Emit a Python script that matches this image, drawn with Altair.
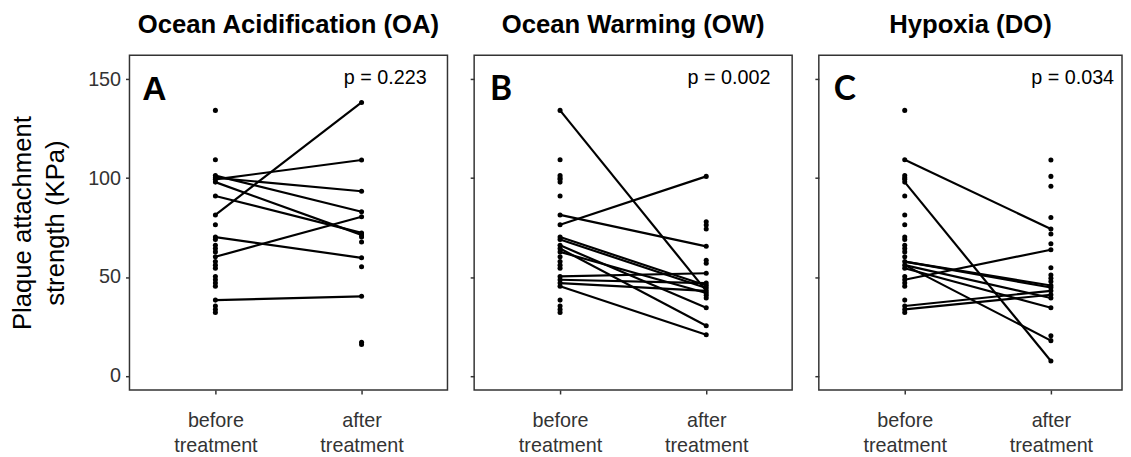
import altair as alt
import pandas as pd

categories = ["before treatment", "after treatment"]
panel_titles = ["Ocean Acidification (OA)", "Ocean Warming (OW)", "Hypoxia (DO)"]
panel_letters = ["A", "B", "C"]
p_values = ["p = 0.223", "p = 0.002", "p = 0.034"]

before_all = [134.3, 109.3, 101.3, 100.2, 99.4, 98.0, 91.0, 81.4, 76.4, 70.2, 69.0, 66.0, 64.4,
              62.7, 60.2, 57.8, 56.0, 54.4, 50.3, 48.6, 46.9, 45.3, 38.3, 35.3, 33.6, 32.0]

after_A = [138.3, 109.2, 93.4, 83.0, 80.5, 72.3, 71.3, 70.2, 67.7, 59.7, 55.2, 40.2, 17.0, 15.8]
after_B = [100.9, 78.0, 76.3, 74.3, 65.5, 58.5, 56.9, 51.9, 46.9, 45.7, 44.4, 43.0, 41.9, 40.7,
           39.4, 34.4, 25.3, 20.8]
after_C = [109.2, 100.9, 95.9, 80.1, 74.3, 71.8, 66.8, 63.8, 54.7, 51.0, 49.4, 47.7, 45.7, 44.7,
           43.0, 41.0, 39.4, 34.4, 20.3, 17.8, 7.5]

pair_before_A = [81.4, 99.4, 100.2, 101.3, 98.0, 91.0, 70.2, 60.2, 38.3]
pair_after_A = [138.3, 109.2, 93.4, 83.0, 71.3, 72.3, 59.7, 80.5, 40.2]

pair_before_B = [134.3, 76.4, 81.4, 70.2, 69.0, 66.0, 64.4, 62.7, 50.3, 48.6, 46.9, 45.3]
pair_after_B = [43.0, 100.9, 65.5, 45.7, 44.4, 34.4, 25.3, 41.9, 51.9, 46.9, 43.0, 20.8]

pair_before_C = [109.3, 98.0, 48.6, 57.8, 57.8, 56.0, 54.4, 56.0, 35.3, 33.6]
pair_after_C = [74.3, 7.5, 63.8, 45.7, 44.7, 39.4, 34.4, 17.8, 43.0, 41.0]

afters = [after_A, after_B, after_C]
pairs = [(pair_before_A, pair_after_A), (pair_before_B, pair_after_B), (pair_before_C, pair_after_C)]

FONT = "Liberation Sans"
widths = [322, 322, 307]
letter_fonts = ["Liberation Sans", "Lato", "Lato"]
letter_dx = [13, 16, 15]
p_dx = [301, 300, 299]
GREY = "#333333"


def panel(i):
    pts = pd.DataFrame({
        "cond": [categories[0]] * len(before_all) + [categories[1]] * len(afters[i]),
        "val": before_all + afters[i],
    })
    pb, pa = pairs[i]
    ln = pd.DataFrame({
        "id": list(range(len(pb))) * 2,
        "cond": [categories[0]] * len(pb) + [categories[1]] * len(pa),
        "val": pb + pa,
    })
    xscale = alt.Scale(type="point", domain=categories, range=[87, 235], padding=0)
    yscale = alt.Scale(domain=[-7.2, 162.2], nice=False, zero=False)
    xaxis = alt.Axis(title=None, labelAngle=0, labelExpr="split(datum.label, ' ')",
                     labelLineHeight=25, labelPadding=17, labelFontSize=20, labelFont=FONT,
                     labelColor=GREY, tickSize=4, tickWidth=1.5, tickColor=GREY,
                     domain=False, grid=False, labelBaseline="top")
    if i == 0:
        yaxis = alt.Axis(title=["Plaque attachment", "strength (KPa)"], values=[0, 50, 100, 150],
                         titleFontSize=26, titleFont=FONT, titleFontWeight="normal",
                         titleLineHeight=34, titlePadding=19, titleColor="black",
                         labelFontSize=20, labelFont=FONT, labelColor=GREY, labelPadding=5,
                         tickSize=4, tickWidth=1.5, tickColor=GREY, domain=False, grid=False)
    else:
        yaxis = alt.Axis(title=None, values=[0, 50, 100, 150], labels=False,
                         tickSize=4, tickWidth=1.5, tickColor=GREY, domain=False, grid=False)

    lines = alt.Chart(ln).mark_line(color="black", strokeWidth=2.2).encode(
        x=alt.X("cond:N", scale=xscale, axis=xaxis, sort=categories),
        y=alt.Y("val:Q", scale=yscale, axis=yaxis),
        detail="id:N",
    )
    dots = alt.Chart(pts).mark_circle(color="black", opacity=1, size=26).encode(
        x=alt.X("cond:N", scale=xscale, axis=xaxis, sort=categories),
        y=alt.Y("val:Q", scale=yscale, axis=yaxis),
    )
    letter = alt.Chart(pd.DataFrame({"t": [panel_letters[i]]})).mark_text(
        font=letter_fonts[i], fontSize=34, fontWeight="bold", align="left", baseline="alphabetic",
        color="black").encode(text="t:N", x=alt.value(letter_dx[i]), y=alt.value(45))
    ptxt = alt.Chart(pd.DataFrame({"t": [p_values[i]]})).mark_text(
        font=FONT, fontSize=20, align="right", baseline="alphabetic", color="black").encode(
        text="t:N", x=alt.value(p_dx[i]), y=alt.value(29))
    return alt.layer(lines, dots, letter, ptxt).properties(
        width=widths[i], height=339,
        title=alt.TitleParams(text=panel_titles[i], fontSize=26, fontWeight="bold", font=FONT,
                              color="black", offset=18, anchor="middle"),
    )


chart = alt.hconcat(panel(0), panel(1), panel(2), spacing=20).properties(
    padding={"left": 0, "top": 0, "right": 0, "bottom": 0}
).configure_view(stroke=GREY, strokeWidth=1.5)

chart.save("out.html", embed_options={"renderer": "svg", "actions": False})
